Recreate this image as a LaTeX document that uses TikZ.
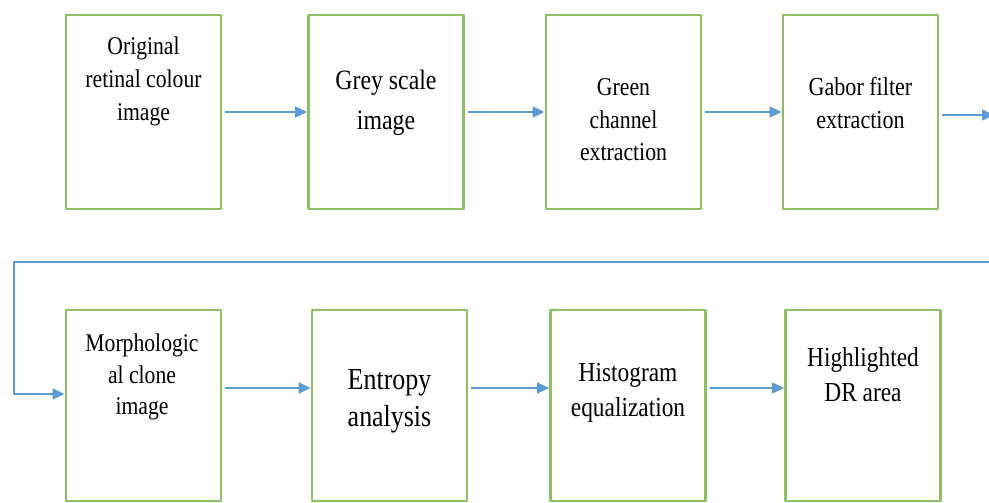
\documentclass[tikz,border=0pt]{standalone}
\usepackage{fontspec}
\newfontfamily\boxfont[FakeStretch=0.85]{Liberation Serif}
\usetikzlibrary{arrows.meta}
\definecolor{boxgreen}{HTML}{8CC265}
\definecolor{flowblue}{HTML}{5B9BD5}
\tikzset{
  every picture/.style={line join=round, >={Triangle[length=12pt,width=11pt]}},
  stage/.style={draw=boxgreen, line width=2.8pt, minimum width=155pt, inner sep=0pt},
  lbl/.style={align=center, inner sep=0pt, text=black},
  fs/.style 2 args={font=\boxfont\fontsize{#1}{#2}\selectfont},
  flow/.style={draw=flowblue, line width=1.6pt, ->},
}

\begin{document}
\begin{tikzpicture}[x=1pt,y=1pt]
\useasboundingbox (0,0) rectangle (989,-503);
% first row
\node[stage, minimum height=194pt] (b1) at (143.5,-112) {};
\node[stage, minimum height=194pt] (b2) at (386,-112) {};
\node[stage, minimum height=194pt] (b3) at (623.5,-112) {};
\node[stage, minimum height=194pt] (b4) at (860.5,-112) {};
% second row
\node[stage, minimum height=191pt] (b5) at (143.5,-405.5) {};
\node[stage, minimum height=191pt] (b6) at (389.5,-405.5) {};
\node[stage, minimum height=191pt] (b7) at (628,-405.5) {};
\node[stage, minimum height=191pt] (b8) at (863,-405.5) {};
% labels
\node[lbl, fs={25.5}{33}] (t1) at (143.5,-81) {Original\\retinal colour\\image};
\node[lbl, fs={28}{40}] (t2) at (386,-103) {Grey scale\\image};
\node[lbl, fs={25.6}{32.5}] (t3) at (623.5,-120) {Green\\channel\\extraction};
\node[lbl, fs={26}{33.5}] (t4) at (860.5,-103) {Gabor filter\\extraction};
\node[lbl, fs={25.5}{31.5}] (t5) at (142,-377) {Morphologic\\al clone\\image};
\node[lbl, fs={30.5}{37}] (t6) at (389.5,-401) {Entropy\\analysis};
\node[lbl, fs={27.5}{35}] (t7) at (628,-393) {Histogram\\equalization};
\node[lbl, fs={27.5}{35}] (t8) at (863,-375) {Highlighted\\DR area};
% connectors
\coordinate (out) at (994,-115);
\coordinate (ret) at (989,-262);
\coordinate (turn) at (14,-262);
\draw[flow, shorten <=3pt] (b1.east) -- (b2.west);
\draw[flow, shorten <=3pt] (b2.east) -- (b3.west);
\draw[flow, shorten <=3pt] (b3.east) -- (b4.west);
\draw[flow, shorten <=3pt] (b4.east |- out) -- (out);
\draw[flow] (ret) -- (turn) |- ([yshift=11.5pt]b5.west);
\draw[flow, shorten <=3pt] ([yshift=17.5pt]b5.east) -- ([yshift=17.5pt]b6.west);
\draw[flow, shorten <=3pt] ([yshift=17.5pt]b6.east) -- ([yshift=17.5pt]b7.west);
\draw[flow, shorten <=3pt] ([yshift=17.5pt]b7.east) -- ([yshift=17.5pt]b8.west);
\end{tikzpicture}
\end{document}
